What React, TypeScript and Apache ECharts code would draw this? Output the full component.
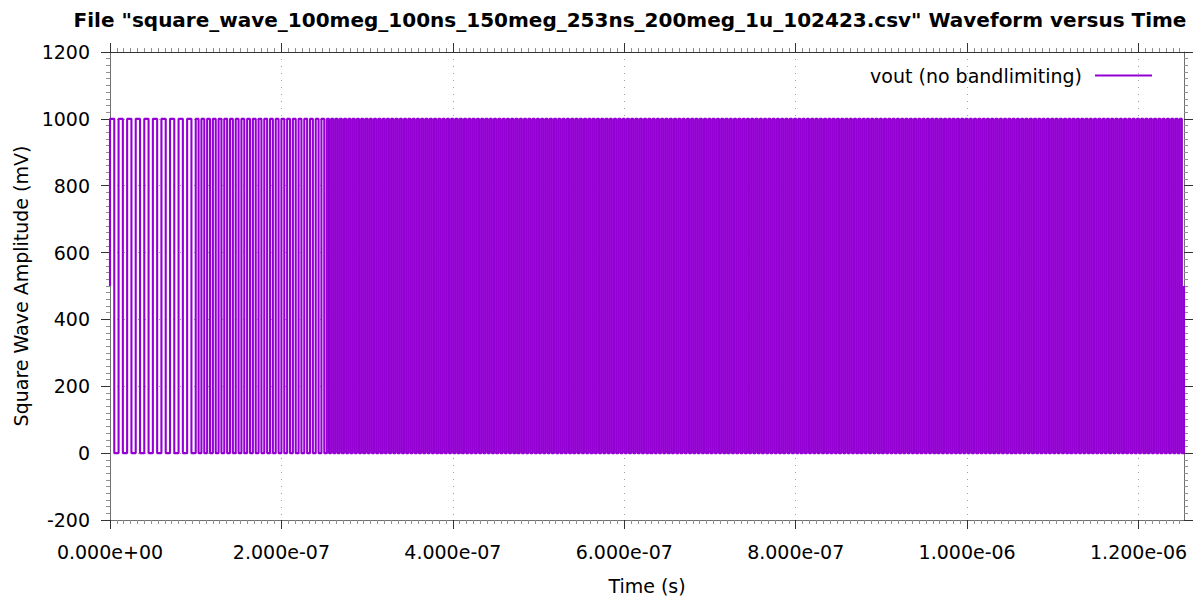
import React, { useEffect, useRef } from 'react';
import * as echarts from 'echarts';

const titleText =
  'File "square_wave_100meg_100ns_150meg_253ns_200meg_1u_102423.csv" Waveform versus Time';
const seriesName = 'vout (no bandlimiting)';
const xAxisName = 'Time (s)';
const yAxisName = 'Square Wave Amplitude (mV)';

// Square-wave segments (and the file name)
const segmentStartNs = [0, 100, 253];
const segmentEndNs = [100, 253, 1253];
const segmentFreqMHz = [100, 150, 200];
const levelHighMv = 1000;
const levelLowMv = 0;
const startValueMv = 500;
const endValueMv = 500;

// Axis ticks
const xTickNs = [0, 200, 400, 600, 800, 1000, 1200];
const yTicks = [-200, 0, 200, 400, 600, 800, 1000, 1200];

const FONT = 'DejaVu Sans';
const WAVE_COLOR = '#9400d3';

function buildWave(): [number, number][] {
  const pts: [number, number][] = [[segmentStartNs[0], startValueMv]];
  segmentStartNs.forEach((s, i) => {
    const half = 1000 / segmentFreqMHz[i] / 2;
    const e = segmentEndNs[i];
    let k = 0;
    while (s + k * half < e - 1e-9) {
      const t0 = s + k * half;
      const t1 = Math.min(s + (k + 1) * half, e);
      const lvl = k % 2 === 0 ? levelHighMv : levelLowMv;
      pts.push([t0, lvl], [t1, lvl]);
      k++;
    }
  });
  pts.push([segmentEndNs[segmentEndNs.length - 1], endValueMv]);
  return pts;
}

function sci(v: number): string {
  if (v === 0) return '0.000e+00';
  const [m, e] = v.toExponential(3).split('e');
  const sign = e[0] === '-' ? '-' : '+';
  const digits = e.replace(/^[+-]/, '').padStart(2, '0');
  return `${m}e${sign}${digits}`;
}

export default function App() {
  const ref = useRef<HTMLDivElement>(null);
  useEffect(() => {
    if (!ref.current) return;
    const chart = echarts.init(ref.current, undefined, { renderer: 'svg' });
    const wave = buildWave();
    const xMin = segmentStartNs[0];
    const xMax = segmentEndNs[segmentEndNs.length - 1];
    const yMin = yTicks[0];
    const yMax = yTicks[yTicks.length - 1];
    const text = { fontFamily: FONT, fontSize: 19, color: '#000' };
    chart.setOption({
      animation: false,
      backgroundColor: '#fff',
      title: {
        text: titleText,
        left: 625,
        top: 5,
        textAlign: 'center',
        textStyle: { fontFamily: FONT, fontSize: 20, fontWeight: 'bold', color: '#000' },
      },
      legend: {
        data: [seriesName],
        right: 38,
        top: 61,
        align: 'right',
        icon: 'rect',
        itemWidth: 57,
        itemHeight: 2,
        itemStyle: { color: WAVE_COLOR },
        textStyle: { ...text, padding: [0, 8, 0, 0] },
      },
      grid: { left: 110, right: 11, top: 52, bottom: 83, containLabel: false },
      xAxis: [
        {
          type: 'value',
          min: xMin,
          max: xMax,
          interval: 200,
          position: 'bottom',
          name: xAxisName,
          nameLocation: 'middle',
          nameGap: 56,
          nameTextStyle: text,
          axisLine: { show: true, onZero: false, lineStyle: { color: '#707070', width: 1 } },
          axisTick: { show: true, inside: false, length: 9, customValues: xTickNs, lineStyle: { color: '#333' } },
          minorTick: { show: true, splitNumber: 25, length: 4, lineStyle: { color: '#909090' } },
          axisLabel: {
            ...text,
            margin: 22,
            customValues: xTickNs,
            formatter: (v: number) => (Math.abs(v % 200) < 1e-6 ? sci(v * 1e-9) : ''),
          },
          splitLine: { show: true, lineStyle: { color: '#a0a0a0', width: 1, type: [1, 6] } },
        },
        {
          type: 'value',
          min: xMin,
          max: xMax,
          interval: 200,
          position: 'top',
          axisLine: { show: true, onZero: false, lineStyle: { color: '#333', width: 1 } },
          axisTick: { show: true, inside: false, length: 9, customValues: xTickNs, lineStyle: { color: '#333' } },
          minorTick: { show: true, splitNumber: 25, length: 4, lineStyle: { color: '#909090' } },
          axisLabel: { show: false },
          splitLine: { show: false },
        },
      ],
      yAxis: [
        {
          type: 'value',
          min: yMin,
          max: yMax,
          interval: 200,
          position: 'left',
          name: yAxisName,
          nameLocation: 'middle',
          nameGap: 80,
          nameRotate: 90,
          nameTextStyle: text,
          axisLine: { show: true, onZero: false, lineStyle: { color: '#707070', width: 1 } },
          axisTick: { show: true, inside: false, length: 9, lineStyle: { color: '#333' } },
          minorTick: { show: true, splitNumber: 10, length: 4, lineStyle: { color: '#909090' } },
          axisLabel: { ...text, margin: 20, formatter: (v: number) => String(v) },
          splitLine: { show: true, lineStyle: { color: '#a0a0a0', width: 1, type: [1, 6] } },
        },
        {
          type: 'value',
          min: yMin,
          max: yMax,
          interval: 200,
          position: 'right',
          axisLine: { show: true, onZero: false, lineStyle: { color: '#707070', width: 1 } },
          axisTick: { show: true, inside: false, length: 9, lineStyle: { color: '#333' } },
          minorTick: { show: true, splitNumber: 10, length: 4, lineStyle: { color: '#909090' } },
          axisLabel: { show: false },
          splitLine: { show: false },
        },
      ],
      series: [
        {
          name: seriesName,
          type: 'line',
          xAxisIndex: 0,
          yAxisIndex: 0,
          data: wave,
          showSymbol: false,
          symbol: 'none',
          lineStyle: { color: WAVE_COLOR, width: 2.1 },
          itemStyle: { color: WAVE_COLOR },
          emphasis: { disabled: true },
          z: 3,
        },
      ],
    });
    return () => chart.dispose();
  }, []);
  return (
    <div
      ref={ref}
      style={{ position: 'fixed', left: 0, top: 0, width: 1195, height: 603, background: '#fff' }}
    />
  );
}
